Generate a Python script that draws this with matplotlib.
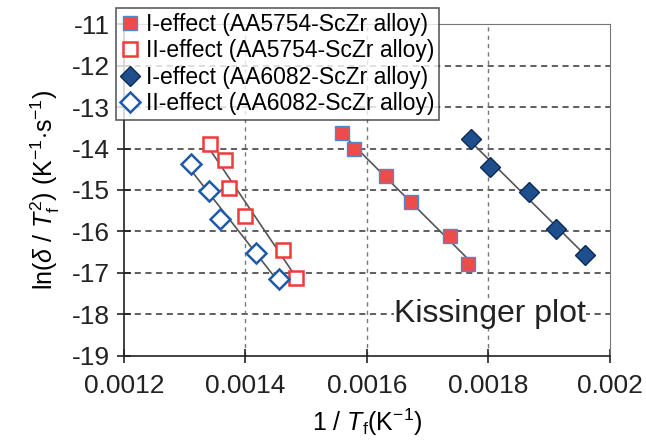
import numpy as np
import matplotlib
matplotlib.use('Agg')
import matplotlib.pyplot as plt

plt.rcParams['font.family'] = ['Liberation Sans', 'DejaVu Sans']
plt.rcParams['mathtext.fontset'] = 'custom'
plt.rcParams['mathtext.rm'] = 'Liberation Sans'
plt.rcParams['mathtext.it'] = 'Liberation Sans:italic'
plt.rcParams['axes.unicode_minus'] = False

# data
x_5754_I = [0.001559, 0.001579, 0.001631, 0.001672, 0.001737, 0.001767]
y_5754_I = [-13.62, -14.00, -14.66, -15.29, -16.11, -16.78]
x_5754_II = [0.001342, 0.001366, 0.001373, 0.001399, 0.001462, 0.001484]
y_5754_II = [-13.89, -14.28, -14.96, -15.63, -16.45, -17.13]
x_6082_I = [0.001771, 0.001803, 0.001867, 0.001911, 0.001959]
y_6082_I = [-13.77, -14.45, -15.06, -15.95, -16.56]
x_6082_II = [0.001310, 0.001340, 0.001358, 0.001417, 0.001455]
y_6082_II = [-14.37, -15.02, -15.71, -16.51, -17.15]

red = '#EE4B4B'
blue = '#1F4E8C'
blue2 = '#1F5AA8'

fig = plt.figure(figsize=(6.46, 4.46), dpi=100)
ax = fig.add_axes([0.192, 0.202, 0.752, 0.744])

# fit lines
for xs, ys in [(x_5754_I, y_5754_I), (x_5754_II, y_5754_II),
               (x_6082_I, y_6082_I), (x_6082_II, y_6082_II)]:
    p = np.polyfit(xs, ys, 1)
    xx = np.array([min(xs), max(xs)])
    ax.plot(xx, np.polyval(p, xx), color='#555555', lw=1.2, zorder=3)

ax.plot(x_5754_I, y_5754_I, 's', ms=10.5, mfc=red, mec='#4A8AD0', mew=1.0,
        ls='none', zorder=4, label='I-effect (AA5754-ScZr alloy)')
ax.plot(x_5754_II, y_5754_II, 's', ms=10.5, mfc='white', mec='#EE3B3B', mew=1.8,
        ls='none', zorder=4, label='II-effect (AA5754-ScZr alloy)')
ax.plot(x_6082_I, y_6082_I, 'D', ms=10, mfc=blue, mec='#0D2A55', mew=1.0,
        ls='none', zorder=4, label='I-effect (AA6082-ScZr alloy)')
ax.plot(x_6082_II, y_6082_II, 'D', ms=10, mfc='white', mec=blue2, mew=1.8,
        ls='none', zorder=4, label='II-effect (AA6082-ScZr alloy)')

ax.set_xlim(0.0012, 0.002)
ax.set_ylim(-19, -11)
ax.set_xticks([0.0012, 0.0014, 0.0016, 0.0018, 0.002])
ax.set_xticklabels(['0.0012', '0.0014', '0.0016', '0.0018', '0.002'])
ax.set_yticks(range(-19, -10))

for yv in range(-18, -11):
    ax.axhline(yv, color='#333333', lw=1.1, ls=(0, (4, 3)), zorder=1)
for xv in [0.0014, 0.0016, 0.0018]:
    ax.axvline(xv, color='#777777', lw=1.0, ls=(0, (3, 3)), zorder=1)

for s in ['top', 'right']:
    ax.spines[s].set_color('#777777')
for s in ['left', 'bottom']:
    ax.spines[s].set_color('#222222')
    ax.spines[s].set_linewidth(1.2)
ax.tick_params(direction='inout', length=10, width=1.2, labelsize=19,
               colors='#222222', pad=5)
ax.tick_params(axis='x', pad=8)

ax.set_ylabel(r'ln($\delta$ / $T_\mathrm{f}^{2}$) (K$^{-1}$$\cdot$s$^{-1}$)', fontsize=18,
              labelpad=7)
ax.set_xlabel(r'1 / $T_\mathrm{f}$(K$^{-1}$)', fontsize=18, labelpad=6)

ax.text(0.001645, -18, 'Kissinger plot', fontsize=23, va='center', ha='left',
        color='#222222', zorder=2,
        bbox=dict(facecolor='white', edgecolor='none', pad=0))

leg = ax.legend(loc='upper left', bbox_to_anchor=(-0.016, 1.048), fontsize=16.5,
                frameon=True, fancybox=False, edgecolor='#333333',
                handlelength=0.8, handletextpad=0.3, borderpad=0.2,
                labelspacing=0.15, borderaxespad=0)
leg.get_frame().set_linewidth(1.2)
leg.set_zorder(5)

fig.savefig('out.png', dpi=100)
